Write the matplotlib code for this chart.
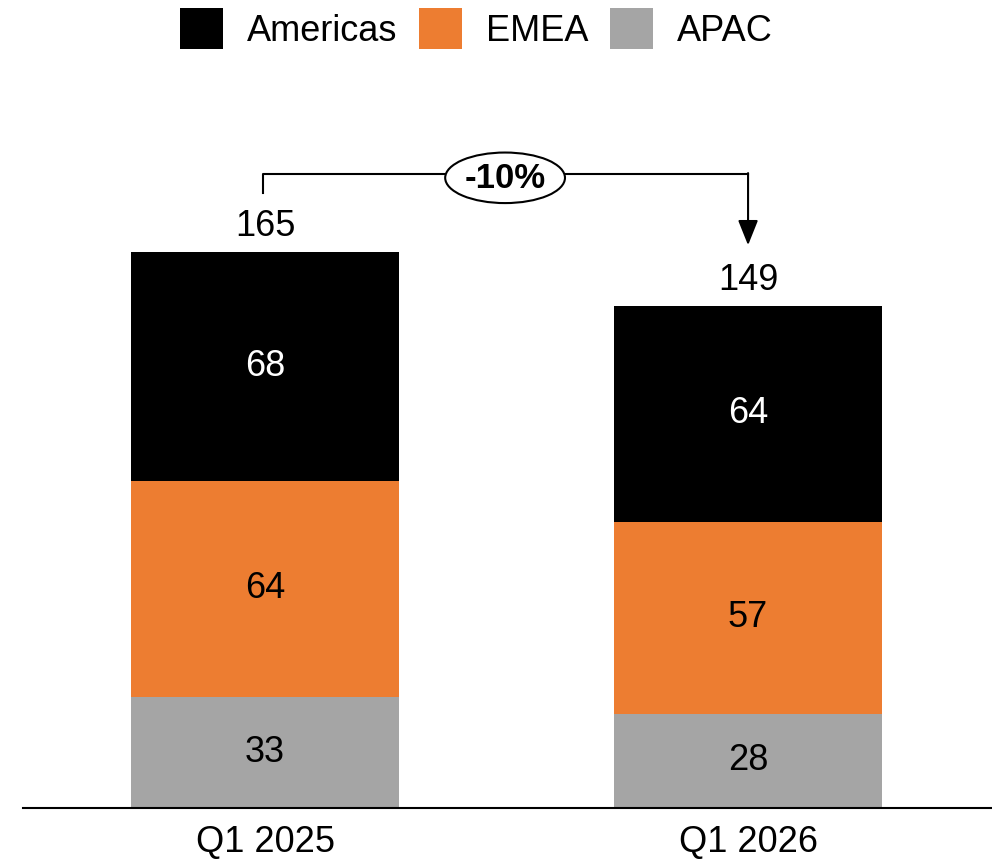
import matplotlib.pyplot as plt
from matplotlib.patches import Ellipse

plt.rcParams['font.family'] = ['Liberation Sans', 'DejaVu Sans']

quarters = ['Q1 2025', 'Q1 2026']
americas = [68, 64]
emea = [64, 57]
apac = [33, 28]
change_label = '-10%'

colors = {'Americas': '#000000', 'EMEA': '#ED7D31', 'APAC': '#A5A5A5'}

fig = plt.figure(figsize=(9.92, 8.6), dpi=100)
ax = fig.add_axes([23 / 992, 52 / 860, 969 / 992, 808 / 860])

x = [0, 1]
width = 0.555

totals = [a + e + p for a, e, p in zip(americas, emea, apac)]
bottoms_emea = apac
bottoms_am = [p + e for p, e in zip(apac, emea)]

ax.bar(x, apac, width, color=colors['APAC'], label='APAC')
ax.bar(x, emea, width, bottom=bottoms_emea, color=colors['EMEA'], label='EMEA')
ax.bar(x, americas, width, bottom=bottoms_am, color=colors['Americas'], label='Americas')

fs = 26
for i in x:
    ax.text(i, apac[i] / 2, str(apac[i]), ha='center', va='center', fontsize=fs, color='black')
    ax.text(i, bottoms_emea[i] + emea[i] / 2, str(emea[i]), ha='center', va='center',
            fontsize=fs, color='black')
    ax.text(i, bottoms_am[i] + americas[i] / 2, str(americas[i]), ha='center', va='center',
            fontsize=fs, color='white')
    ax.text(i, totals[i] + 2.3, str(totals[i]), ha='center', va='bottom', fontsize=fs, color='black')

# bracket with arrow from first total to second
top = max(totals) + 23
ax.plot([x[0] - 0.004, x[0] - 0.004, x[1]], [totals[0] + 17.5, top, top], color='black', lw=1.5,
        zorder=3)
ax.annotate('', xy=(x[1], totals[1] + 18.0), xytext=(x[1], top + 0.4),
            arrowprops=dict(arrowstyle='-|>,head_length=0.7,head_width=0.28', color='black',
                            lw=1.5, mutation_scale=22, shrinkA=0, shrinkB=0), zorder=3)
ax.add_patch(Ellipse((0.497, top - 1), 0.248, 15.0, facecolor='white', edgecolor='black',
                     lw=1.5, zorder=4))
ax.text(0.497, top - 1.3, change_label, ha='center', va='center', fontsize=25,
        fontweight='bold', zorder=5)

ax.set_xlim(-0.501, 1.505)
ax.set_ylim(0, 808 / 3.37)
ax.set_xticks(x)
ax.set_xticklabels(quarters, fontsize=fs)
ax.tick_params(axis='x', length=0, pad=12)
ax.set_yticks([])
for s in ['top', 'right', 'left']:
    ax.spines[s].set_visible(False)
ax.spines['bottom'].set_linewidth(1.5)

handles, labels = ax.get_legend_handles_labels()
order = [2, 1, 0]
fig.legend([handles[k] for k in order], [labels[k] for k in order], loc='upper center',
           bbox_to_anchor=(0.48, 1.028), ncol=3, frameon=False, fontsize=fs,
           handlelength=1.2, handleheight=1.35, handletextpad=0.65, columnspacing=0.6)

fig.savefig('out.png', dpi=100)
